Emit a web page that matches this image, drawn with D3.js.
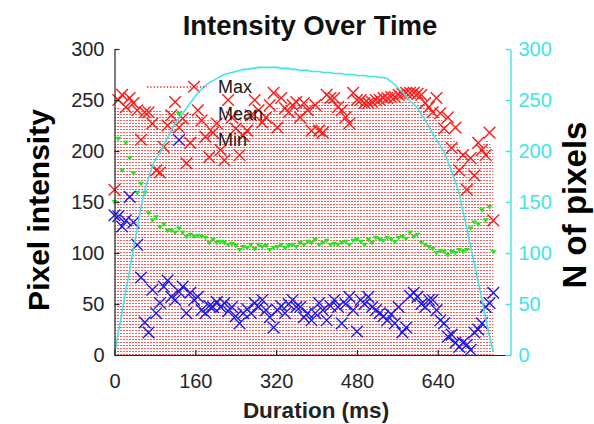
<!DOCTYPE html>
<html>
<head>
<meta charset="utf-8">
<script src="https://cdn.jsdelivr.net/npm/d3@7/dist/d3.min.js"></script>
<style>
  html, body { margin: 0; padding: 0; background: #fff; }
  svg { display: block; font-family: "Liberation Sans", Arial, Helvetica, sans-serif; }
</style>
</head>
<body>
<svg id="chart" width="594" height="424"></svg>
<script>
// Frame interval of the recording (ms)
const frameMs = 7.5;

// Per-frame maximum pixel intensity
const maxIntensity = [
  162,250,255,243,252,247,240,211,238,238,
  227,181,179,204,225,235,248,223,232,188,
  208,263,240,230,214,194,218,227,201,191,
  250,233,222,196,215,220,235,250,240,228,
  233,245,257,223,252,242,238,245,248,233,
  247,240,220,245,220,218,255,252,252,243,
  240,233,227,257,250,250,247,247,248,250,
  250,252,252,253,253,255,256,257,257,257,
  256,255,247,243,238,252,237,222,233,203,
  223,181,196,162,193,176,208,201,196,218,
  132
];

// Level reached by the dotted Max trace in each frame
const maxTrace = [
  242,243,241,244,242,240,241,243,240,238,
  241,242,240,238,241,240,239,241,240,237,
  238,236,233,235,230,232,228,231,226,229,
  233,230,226,232,228,235,233,236,231,238,
  240,236,242,244,240,246,243,245,247,246,
  248,248,247,249,248,250,249,248,250,249,
  250,249,250,250,249,250,251,250,249,250,
  251,250,250,249,250,251,250,249,250,248,
  249,247,246,243,240,235,233,227,220,214,
  211,205,198,196,195,194,200,205,211,208,
  200
];

// Per-frame mean pixel intensity
const meanIntensity = [
  150,212,181,208,193,178,159,168,159,139,
  132,135,125,128,122,122,120,124,120,116,
  118,116,117,116,115,110,113,110,111,110,
  108,109,107,103,106,105,108,104,108,106,
  107,103,105,106,108,105,107,108,106,110,
  108,111,110,113,108,110,112,108,109,108,
  110,111,108,112,113,111,108,113,110,115,
  113,112,115,113,111,115,116,114,120,116,
  118,110,108,106,104,100,102,101,98,101,
  100,103,101,103,124,130,128,142,132,145,
  101
];

// Per-frame minimum pixel intensity
const minIntensity = [
  137,136,126,132,155,130,108,76,32,22,
  64,41,51,67,73,57,54,62,67,41,
  61,54,57,44,41,48,47,52,47,51,
  43,47,38,31,41,45,41,51,47,54,
  44,37,27,44,48,41,50,54,47,47,
  37,41,34,41,51,44,34,48,54,47,
  31,50,57,44,23,54,50,57,47,44,
  41,38,34,40,31,47,22,27,58,61,
  57,50,47,54,54,44,34,31,18,20,
  12,8,12,10,5,22,25,31,47,51,
  61
];

// Number of pixels in the tracked region per frame (right axis)
const pixelCount = [
  0,22,42,63,83,104,124,145,162,174,
  185,193,198,206,213,220,227,232,237,242,
  247,252,257,261,264,267,269,271,273,275,
  276,277,278,279,280,280,281,281,282,282,
  282,282,282,282,281,281,281,280,280,279,
  279,279,278,278,278,277,277,277,276,276,
  276,275,275,275,274,274,274,273,273,273,
  272,272,271,268,265,261,258,253,249,246,
  242,236,230,224,217,211,205,199,190,180,
  170,158,141,124,107,89,72,54,36,18,
  3
];

const xTicks = [0, 160, 320, 480, 640];
const yTicks = [0, 50, 100, 150, 200, 250, 300];
const nTicks = [0, 50, 100, 150, 200, 250, 300];
const legendLabels = ["Max", "Mean", "Min"];

const times = maxIntensity.map((_, i) => i * frameMs);

const COL_MAX = "#ff1a1a", COL_MEAN = "#22e622", COL_MIN = "#1a1aee", COL_N = "#40e6e6";
const AXIS_COL = "#262626";

const svg = d3.select("#chart");

const x = d3.scaleLinear().domain([0, 784]).range([114.5, 510.5]);
const y = d3.scaleLinear().domain([0, 300]).range([355, 49]);
const yN = d3.scaleLinear().domain([0, 300]).range([355, 49]);

// dotted fill pattern of the Max trace
const defs = svg.append("defs");
const pat = defs.append("pattern").attr("id", "maxDots")
  .attr("patternUnits", "userSpaceOnUse").attr("width", 3).attr("height", 3);
pat.append("rect").attr("x", 0).attr("y", 0).attr("width", 2).attr("height", 1)
  .attr("fill", "rgb(240,95,95)");

const plot = svg.append("g");

plot.append("path")
  .datum(maxTrace)
  .attr("fill", "url(#maxDots)")
  .attr("d", d3.area()
    .x((d, i) => x(times[i]))
    .y0(y(0))
    .y1(d => y(d)));

// cross marker
const cross = s => `M${-s},${-s}L${s},${s}M${-s},${s}L${s},${-s}`;

plot.append("g").selectAll("path")
  .data(maxIntensity)
  .join("path")
  .attr("transform", (d, i) => `translate(${x(times[i])},${y(d)})`)
  .attr("d", cross(5.8))
  .attr("stroke", COL_MAX).attr("stroke-width", 1.4).attr("fill", "none");

const tri = "M-3,-2L3,-2L0,2.6Z";
plot.append("g").selectAll("path")
  .data(meanIntensity)
  .join("path")
  .attr("transform", (d, i) => `translate(${x(times[i])},${y(d)})`)
  .attr("d", tri)
  .attr("fill", COL_MEAN);

plot.append("g").selectAll("path")
  .data(minIntensity)
  .join("path")
  .attr("transform", (d, i) => `translate(${x(times[i])},${y(d)})`)
  .attr("d", cross(5.8))
  .attr("stroke", COL_MIN).attr("stroke-width", 1.4).attr("fill", "none");

plot.append("path")
  .datum(pixelCount)
  .attr("fill", "none")
  .attr("stroke", COL_N)
  .attr("stroke-width", 1.6)
  .attr("d", d3.line().x((d, i) => x(times[i])).y(d => yN(d)));

// axes
const fontTick = "20px";
const gx = svg.append("g").attr("transform", `translate(0,${y(0)})`)
  .call(d3.axisBottom(x).tickValues(xTicks).tickSize(-5).tickSizeOuter(0).tickPadding(19));
const gy = svg.append("g").attr("transform", `translate(${x(0)},0)`)
  .call(d3.axisLeft(y).tickValues(yTicks).tickSize(-5).tickSizeOuter(0).tickPadding(10));
const gr = svg.append("g").attr("transform", `translate(${x.range()[1]},0)`)
  .call(d3.axisRight(yN).tickValues(nTicks).tickSize(-5).tickSizeOuter(0).tickPadding(8));

[gx, gy].forEach(g => {
  g.attr("font-size", fontTick).attr("font-family", null);
  g.selectAll("path, line").attr("stroke", AXIS_COL).attr("stroke-width", 1.2);
  g.selectAll("text").attr("fill", AXIS_COL);
});
gr.attr("font-size", fontTick).attr("font-family", null);
gr.selectAll("path, line").attr("stroke", COL_N).attr("stroke-width", 1.4);
gr.selectAll("text").attr("fill", COL_N);

// legend (no box)
const lg = svg.append("g");
const lx0 = 147, lx1 = 207, lmid = 179, ltx = 218;
const ly = [87, 114, 140];
lg.append("line").attr("x1", lx0).attr("x2", lx1).attr("y1", ly[0]).attr("y2", ly[0])
  .attr("stroke", COL_MAX).attr("stroke-width", 1.3).attr("stroke-dasharray", "1.3,2");
lg.append("path").attr("transform", `translate(${lmid},${ly[1]})`).attr("d", tri).attr("fill", COL_MEAN);
lg.append("path").attr("transform", `translate(${lmid},${ly[2]})`).attr("d", cross(5.8))
  .attr("stroke", COL_MIN).attr("stroke-width", 1.4).attr("fill", "none");
lg.selectAll("text").data(legendLabels).join("text")
  .attr("x", ltx).attr("y", (d, i) => ly[i]).attr("dy", "0.35em")
  .attr("font-size", "18px").attr("fill", "#1a1a1a").text(d => d);

// titles
svg.append("text").attr("x", 310).attr("y", 35).attr("text-anchor", "middle")
  .attr("font-size", "27.5px").attr("font-weight", "bold").attr("fill", "#111")
  .text("Intensity Over Time");
svg.append("text").attr("x", 316).attr("y", 418).attr("text-anchor", "middle")
  .attr("font-size", "22.5px").attr("font-weight", "bold").attr("fill", "#222")
  .text("Duration (ms)");
svg.append("text").attr("transform", "translate(38,210) rotate(-90)")
  .attr("text-anchor", "middle").attr("dy", "0.35em")
  .attr("font-size", "30px").attr("font-weight", "bold").attr("fill", "#000")
  .text("Pixel intensity");
svg.append("text").attr("transform", "translate(574,205) rotate(-90)")
  .attr("text-anchor", "middle").attr("dy", "0.35em")
  .attr("font-size", "33px").attr("font-weight", "bold").attr("fill", "#000")
  .text("N of pixels");
</script>
</body>
</html>
